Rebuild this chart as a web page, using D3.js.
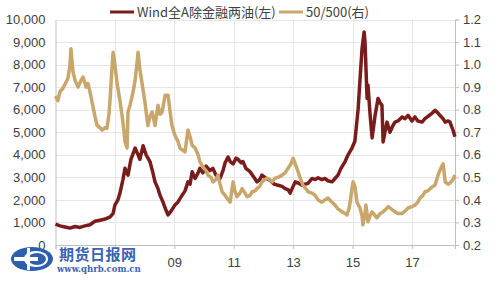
<!DOCTYPE html>
<html>
<head>
<meta charset="utf-8">
<script src="https://cdn.jsdelivr.net/npm/d3@7/dist/d3.min.js"></script>
<style>
  body { margin: 0; background: #fff; }
  svg { display: block; font-family: "Liberation Sans", Arial, sans-serif; }
</style>
</head>
<body>
<script>
// series: Wind all-A ex financials & oil (left axis) and 50/500 ratio (right axis)
var windDates = [2005.00,2005.15,2005.32,2005.49,2005.66,2005.82,2005.99,2006.16,2006.33,2006.50,2006.67,2006.84,2006.94,
  2007.00,2007.10,2007.17,2007.27,2007.34,2007.44,2007.54,2007.68,2007.78,2007.84,2007.95,2008.05,2008.18,2008.28,2008.35,
  2008.45,2008.52,2008.62,2008.69,2008.79,2008.89,2009.02,2009.12,2009.26,2009.36,2009.46,2009.53,2009.60,2009.70,2009.80,
  2009.86,2009.96,2010.07,2010.20,2010.30,2010.40,2010.54,2010.64,2010.71,2010.81,2010.88,2010.98,2011.08,2011.14,2011.25,
  2011.31,2011.41,2011.55,2011.68,2011.78,2011.88,2011.95,2012.09,2012.22,2012.36,2012.49,2012.63,2012.73,2012.83,2012.90,
  2013.00,2013.07,2013.17,2013.30,2013.40,2013.50,2013.64,2013.74,2013.84,2013.97,2014.07,2014.17,2014.31,2014.41,2014.51,
  2014.61,2014.75,2014.85,2014.98,2015.08,2015.19,2015.25,2015.32,2015.39,2015.42,2015.49,2015.52,2015.59,2015.66,2015.76,
  2015.86,2015.93,2015.99,2016.03,2016.09,2016.16,2016.26,2016.36,2016.43,2016.53,2016.67,2016.77,2016.87,2017.00,2017.10,
  2017.20,2017.34,2017.44,2017.54,2017.64,2017.78,2017.88,2017.94,2018.05,2018.12,2018.22,2018.28,2018.38,2018.45];
var windValues = [930,850,800,750,820,780,850,900,1050,1100,1150,1250,1400,
  1770,2000,2300,2900,3400,3100,3800,4300,4000,3800,4400,4000,3700,3200,2800,
  2500,2200,1900,1640,1330,1500,1770,1900,2200,2400,2800,2700,3250,2950,3200,
  3400,3200,3500,3300,3400,3100,2950,3300,3650,3900,3700,3600,3850,3800,3650,
  3700,3400,3250,3000,2800,2900,3100,2950,2870,2700,2650,2600,2500,2450,2300,
  2600,2800,2750,2650,2700,2730,2950,2900,2980,2900,2950,2850,2800,2950,3100,
  3400,3700,4000,4300,4600,6050,7300,8700,9450,9000,6500,7100,5800,4750,5750,
  6500,6300,6200,4570,5000,5450,5000,5300,5450,5500,5680,5600,5750,5500,5680,
  5500,5450,5600,5700,5800,5970,5850,5750,5600,5450,5500,5450,5100,4800];

var ratioDates = [2005.00,2005.08,2005.15,2005.25,2005.35,2005.42,2005.49,2005.52,2005.59,2005.66,2005.76,2005.86,2005.93,
  2006.03,2006.09,2006.16,2006.23,2006.33,2006.40,2006.50,2006.57,2006.67,2006.73,2006.80,2006.84,2006.90,2006.94,2007.00,
  2007.07,2007.17,2007.24,2007.31,2007.34,2007.41,2007.44,2007.51,2007.61,2007.68,2007.74,2007.78,2007.84,2007.91,2008.01,
  2008.11,2008.18,2008.25,2008.35,2008.45,2008.52,2008.59,2008.69,2008.79,2008.85,2008.92,2009.02,2009.12,2009.19,2009.29,
  2009.36,2009.46,2009.53,2009.60,2009.70,2009.80,2009.86,2009.96,2010.07,2010.13,2010.24,2010.30,2010.40,2010.47,2010.54,
  2010.61,2010.71,2010.77,2010.88,2010.98,2011.04,2011.11,2011.21,2011.28,2011.38,2011.45,2011.55,2011.62,2011.72,2011.78,
  2011.88,2011.95,2012.05,2012.12,2012.22,2012.29,2012.39,2012.49,2012.63,2012.73,2012.83,2012.93,2013.00,2013.07,2013.17,
  2013.23,2013.33,2013.43,2013.50,2013.64,2013.74,2013.84,2013.97,2014.07,2014.17,2014.31,2014.41,2014.51,2014.65,2014.75,
  2014.81,2014.88,2014.92,2014.98,2015.02,2015.08,2015.15,2015.25,2015.32,2015.35,2015.42,2015.45,2015.52,2015.59,2015.66,
  2015.76,2015.82,2015.93,2016.03,2016.13,2016.20,2016.30,2016.43,2016.53,2016.67,2016.77,2016.87,2017.00,2017.10,2017.20,
  2017.27,2017.37,2017.44,2017.54,2017.61,2017.71,2017.78,2017.88,2017.94,2018.01,2018.05,2018.12,2018.22,2018.28,2018.38,
  2018.45];
var ratioValues = [0.86,0.84,0.88,0.895,0.92,0.94,1.0,1.07,0.967,0.93,0.9,0.93,0.945,
  0.9,0.917,0.88,0.834,0.77,0.73,0.72,0.71,0.72,0.717,0.78,0.85,0.98,1.055,1.0,
  0.92,0.84,0.775,0.7,0.657,0.63,0.79,0.82,0.878,0.93,1.0,1.055,0.98,0.92,0.834,
  0.73,0.77,0.79,0.73,0.82,0.78,0.79,0.864,0.864,0.8,0.73,0.687,0.66,0.63,0.62,
  0.613,0.71,0.68,0.642,0.63,0.6,0.57,0.546,0.53,0.51,0.5,0.48,0.49,0.51,0.47,
  0.436,0.42,0.408,0.39,0.48,0.44,0.414,0.43,0.45,0.43,0.414,0.42,0.436,0.44,0.45,
  0.46,0.48,0.49,0.496,0.49,0.48,0.496,0.5,0.51,0.52,0.54,0.56,0.585,0.56,0.524,
  0.5,0.465,0.45,0.436,0.43,0.42,0.4,0.39,0.4,0.408,0.39,0.377,0.36,0.347,0.34,
  0.333,0.36,0.39,0.45,0.48,0.46,0.39,0.364,0.33,0.29,0.34,0.377,0.303,0.33,0.347,
  0.33,0.32,0.34,0.347,0.36,0.37,0.36,0.347,0.34,0.34,0.35,0.364,0.37,0.377,0.39,
  0.408,0.42,0.436,0.44,0.45,0.46,0.466,0.51,0.53,0.55,0.56,0.48,0.47,0.474,0.49,
  0.51];

var xTicks = [2005, 2007, 2009, 2011, 2013, 2015, 2017];
var xLabelled = [2009, 2011, 2013, 2015, 2017];   // 05 and 07 sit under the watermark
var leftTicks = [0, 1000, 2000, 3000, 4000, 5000, 6000, 7000, 8000, 9000, 10000];
var rightTicks = [0.2, 0.3, 0.4, 0.5, 0.6, 0.7, 0.8, 0.9, 1.0, 1.1, 1.2];
var seriesNames = ["Wind全A除金融两油(左)", "50/500(右)"];
var colors = ["#7b1c1c", "#c9a66b"];

var W = 500, H = 281;
var margin = {top: 19.5, right: 45, bottom: 36, left: 55.5};

var svg = d3.select("body").append("svg")
  .attr("width", W)
  .attr("height", H);

var x = d3.scaleLinear().domain([2005, 2018.45]).range([margin.left, W - margin.right]);
var yL = d3.scaleLinear().domain([0, 10000]).range([H - margin.bottom, margin.top]);
var yR = d3.scaleLinear().domain([0.2, 1.2]).range([H - margin.bottom, margin.top]);

// grid
svg.append("g").selectAll("line").data(leftTicks.slice(1)).enter().append("line")
  .attr("x1", margin.left).attr("x2", W - margin.right)
  .attr("y1", d => Math.round(yL(d)) + 0.5).attr("y2", d => Math.round(yL(d)) + 0.5)
  .attr("stroke", "#e6e6e6");
svg.append("g").selectAll("line").data(xTicks.slice(1)).enter().append("line")
  .attr("x1", d => Math.round(x(d)) + 0.5).attr("x2", d => Math.round(x(d)) + 0.5)
  .attr("y1", margin.top).attr("y2", H - margin.bottom)
  .attr("stroke", "#e6e6e6");

// axes
var xAxis = svg.append("g")
  .attr("transform", "translate(0," + (H - margin.bottom) + ")")
  .call(d3.axisBottom(x).tickValues(xTicks).tickSize(4)
    .tickFormat(d => xLabelled.indexOf(d) >= 0 ? String(d).slice(2) : ""));
var lAxis = svg.append("g")
  .attr("transform", "translate(" + margin.left + ",0)")
  .call(d3.axisLeft(yL).tickValues(leftTicks).tickSize(0).tickPadding(10).tickFormat(d3.format(",")));
var rAxis = svg.append("g")
  .attr("transform", "translate(" + (W - margin.right) + ",0)")
  .call(d3.axisRight(yR).tickValues(rightTicks).tickSize(4).tickPadding(4).tickFormat(d3.format(".1f")));

[xAxis, lAxis, rAxis].forEach(function(g) {
  g.select(".domain").attr("stroke", "#bfbfbf");
  g.selectAll(".tick line").attr("stroke", "#bfbfbf");
  g.selectAll("text").attr("fill", "#404040").style("font-size", "13px");
});
xAxis.selectAll("text").attr("dy", "1.15em");

// lines
var windLine = d3.line().x((d, i) => x(windDates[i])).y(d => yL(d));
var ratioLine = d3.line().x((d, i) => x(ratioDates[i])).y(d => yR(d));

svg.append("path").datum(windValues)
  .attr("d", windLine).attr("fill", "none")
  .attr("stroke", colors[0]).attr("stroke-width", 3.5).attr("stroke-linejoin", "round");
svg.append("path").datum(ratioValues)
  .attr("d", ratioLine).attr("fill", "none")
  .attr("stroke", colors[1]).attr("stroke-width", 3.5).attr("stroke-linejoin", "round");

// legend
var legend = svg.append("g").attr("transform", "translate(110,12)");
var lx = [0, 169];
seriesNames.forEach(function(name, i) {
  legend.append("line").attr("x1", lx[i]).attr("x2", lx[i] + 24)
    .attr("y1", 0).attr("y2", 0).attr("stroke", colors[i]).attr("stroke-width", 3);
  legend.append("text").attr("x", lx[i] + 27).attr("y", 0).attr("dy", "0.35em")
    .attr("fill", "#404040").style("font-size", "13px")
    .style("font-family", "'Noto Sans CJK SC', 'Liberation Sans', sans-serif")
    .text(name);
});

// watermark
var wm = svg.append("g");
wm.append("ellipse").attr("cx", 32).attr("cy", 259).attr("rx", 21).attr("ry", 12).attr("fill", "#2e5eae");
wm.append("ellipse").attr("cx", 36).attr("cy", 259).attr("rx", 12).attr("ry", 8).attr("fill", "#fff");
wm.append("ellipse").attr("cx", 37).attr("cy", 259).attr("rx", 9).attr("ry", 6).attr("fill", "#2e5eae");
wm.append("rect").attr("x", 14).attr("y", 257).attr("width", 24).attr("height", 4).attr("fill", "#fff");
wm.append("rect").attr("x", 27).attr("y", 248).attr("width", 3).attr("height", 22).attr("fill", "#fff");
wm.append("text").attr("x", 59).attr("y", 260)
  .attr("fill", "#3a62b2").style("font-size", "15px").style("font-weight", "bold")
  .style("font-family", "'Noto Sans CJK SC', sans-serif").style("letter-spacing", "0.5px")
  .text("期货日报网");
wm.append("text").attr("x", 57).attr("y", 272)
  .attr("fill", "#3a62b2").style("font-size", "8.5px").style("font-weight", "bold")
  .style("font-family", "'DejaVu Serif', serif")
  .text("www.qhrb.com.cn");
</script>
</body>
</html>
